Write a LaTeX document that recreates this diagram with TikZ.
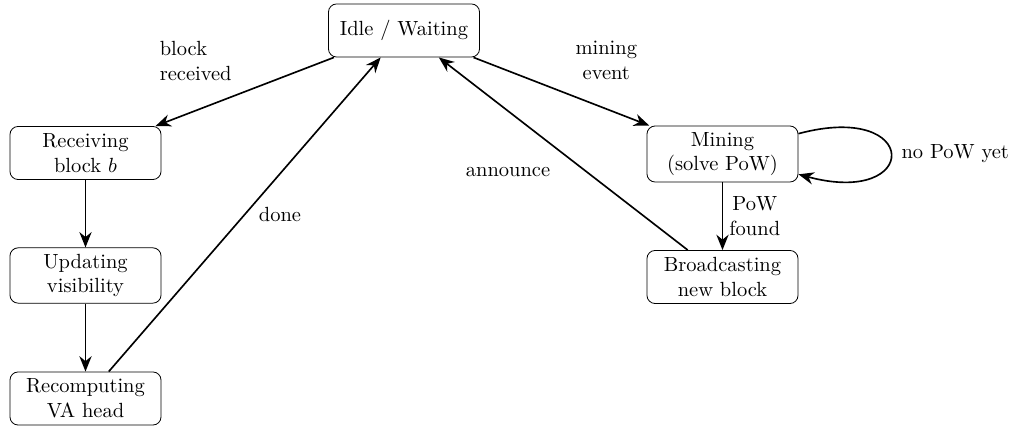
\documentclass[tikz,border=0pt]{standalone}
\usetikzlibrary{arrows.meta}
\begin{document}
\begin{tikzpicture}[x=0.4878pt,y=-0.4878pt,
  state/.style={draw, rounded corners=4pt, align=center, minimum width=73.7pt, minimum height=25.9pt, inner sep=3pt},
  trans/.style={thick, -{Stealth[length=7.5pt,width=6pt]}},
  lbl/.style={align=center, inner sep=3pt}]
\useasboundingbox (0,0) rectangle (1016,426);
\node[state] (idle) at (404,30.5) {Idle / Waiting};
\node[state] (recv) at (85.5,153) {Receiving\\block $b$};
\node[state] (upd) at (85.5,275.5) {Updating\\visibility};
\node[state] (recomp) at (85.5,398.5) {Recomputing\\VA head};
\node[state] (mining) at (722.5,154) {Mining\\(solve PoW)};
\node[state] (bcast) at (722.5,277) {Broadcasting\\new block};

\draw[trans] (idle) -- node[lbl, midway, anchor=south east, align=left, xshift=-3pt, yshift=2pt] {block\\received} (recv);
\draw[trans] (recv) -- (upd);
\draw[trans] (upd) -- (recomp);
\draw[trans] (recomp) -- node[lbl, midway, anchor=west, xshift=3.5pt] {done} (idle);
\draw[trans] (idle) -- node[lbl, midway, anchor=south west, xshift=3.5pt, yshift=2.5pt] {mining\\event} (mining);
\draw[trans] (mining) -- node[lbl, midway, anchor=west] {PoW\\found} (bcast);
\draw[trans] (bcast) -- node[lbl, midway, anchor=north east, xshift=-3pt, yshift=-3pt] {announce} (idle);
\draw[trans] (mining) to[loop right] node[lbl, right, xshift=2pt] {no PoW yet} (mining);
\end{tikzpicture}
\end{document}
